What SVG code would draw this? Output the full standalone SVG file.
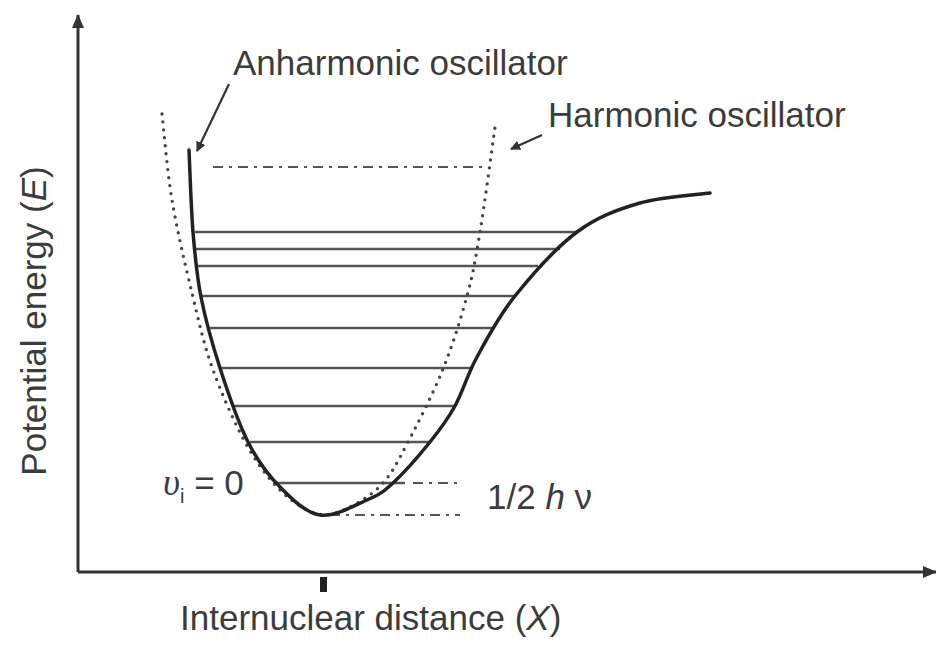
<svg xmlns="http://www.w3.org/2000/svg" width="936" height="645" viewBox="0 0 936 645">
<defs>
<marker id="ah" markerWidth="10" markerHeight="10" refX="9" refY="5" orient="auto" markerUnits="userSpaceOnUse">
<path d="M0,0 L10,5 L0,10 z" fill="#333"/>
</marker>
<marker id="ahs" markerWidth="14" markerHeight="12" refX="13" refY="6" orient="auto" markerUnits="userSpaceOnUse">
<path d="M0,0 L14,6 L0,12 z" fill="#333"/>
</marker>
<style>
.t{font-family:"Liberation Sans",Arial,sans-serif;font-size:35px;fill:#3c3c3c}
.axis{stroke:#333;stroke-width:3;fill:none}
.lvl{stroke:#555;stroke-width:2.4;fill:none}
.dd{stroke:#555;stroke-width:2.2;fill:none;stroke-dasharray:10 6 3 6}
.morse{stroke:#222;stroke-width:3.5;fill:none;stroke-linecap:round;stroke-linejoin:round}
.harm{stroke:#444;stroke-width:3.4;fill:none;stroke-dasharray:0 8;stroke-linecap:round}
.ptr{stroke:#333;stroke-width:2.2;fill:none}
</style>
</defs>
<g id="axes">
<line class="axis" x1="78" y1="572" x2="78" y2="15" marker-end="url(#ahs)"/>
<line class="axis" x1="78" y1="572" x2="936" y2="572" marker-end="url(#ahs)"/>
<rect x="320" y="577" width="7" height="15" fill="#222"/>
</g>
<g id="levels">
<line class="lvl" x1="195" y1="232" x2="577" y2="232"/>
<line class="lvl" x1="196" y1="249" x2="560" y2="249"/>
<line class="lvl" x1="197" y1="266" x2="538" y2="266"/>
<line class="lvl" x1="201" y1="296" x2="515" y2="296"/>
<line class="lvl" x1="210" y1="328" x2="492" y2="328"/>
<line class="lvl" x1="220" y1="368" x2="472" y2="368"/>
<line class="lvl" x1="234" y1="406" x2="455" y2="406"/>
<line class="lvl" x1="250" y1="442" x2="429" y2="442"/>
<line class="lvl" x1="277" y1="483" x2="405" y2="483"/>
<line class="dd" x1="213" y1="167" x2="483" y2="167"/>
<line class="dd" x1="413" y1="483" x2="458" y2="483"/>
<line class="dd" x1="330" y1="515" x2="460" y2="515"/>
</g>
<g id="harmonic">
<path class="harm" d="M162,114 C163.7,128.3 167,170.2 172,200 C177,229.8 185.3,265.2 192,293 C198.7,320.8 203.2,342.2 212,367 C220.8,391.8 233.7,421.5 245,442 C256.3,462.5 267.8,478 280,490 C292.2,502 306.3,511.2 318,514 C329.7,516.8 339.2,512.2 350,507 C360.8,501.8 373.3,493.8 383,483 C392.7,472.2 398,461 408,442 C418,423 433.2,393.3 443,369 C452.8,344.7 460.8,318.8 467,296 C473.2,273.2 475.3,260.2 480,232 C484.7,203.8 492.5,144.5 495,127"/>
</g>
<g id="anharmonic">
<path class="morse" d="M189,150 C189.7,163.7 191,207.5 193,232 C195,256.5 196.5,274.3 201,297 C205.5,319.7 212.2,343.8 220,368 C227.8,392.2 238,422.2 248,442 C258,461.8 268,474.8 280,487 C292,499.2 305.5,512.8 320,515 C334.5,517.2 354.8,505.3 367,500 C379.2,494.7 382.5,492.7 393,483 C403.5,473.3 419.7,454.8 430,442 C440.3,429.2 447.2,420.2 455,406 C462.8,391.8 467,375.3 477,357 C487,338.7 498.3,316.8 515,296 C531.7,275.2 556.2,247.5 577,232 C597.8,216.5 617.8,209.5 640,203 C662.2,196.5 698.3,194.7 710,193"/>
</g>
<g id="connectors">
<line class="ptr" x1="229" y1="84" x2="197" y2="151" marker-end="url(#ah)"/>
<line class="ptr" x1="542" y1="135" x2="511" y2="149" marker-end="url(#ah)"/>
</g>
<g id="labels">
<text class="t" x="233" y="75">Anharmonic oscillator</text>
<text class="t" x="548" y="127">Harmonic oscillator</text>
<text class="t" transform="translate(46,321) rotate(-90)" text-anchor="middle">Potential energy (<tspan font-style="italic">E</tspan>)</text>
<text class="t" x="180" y="630">Internuclear distance (<tspan font-style="italic">X</tspan>)</text>
<text class="t" x="163" y="495"><tspan font-family="'Liberation Serif',serif" font-style="italic" font-size="37">υ</tspan><tspan font-size="20" dy="8">i</tspan><tspan dy="-8"> = 0</tspan></text>
<text class="t" x="487" y="509">1/2 <tspan font-style="italic">h</tspan> ν</text>
</g>
</svg>
